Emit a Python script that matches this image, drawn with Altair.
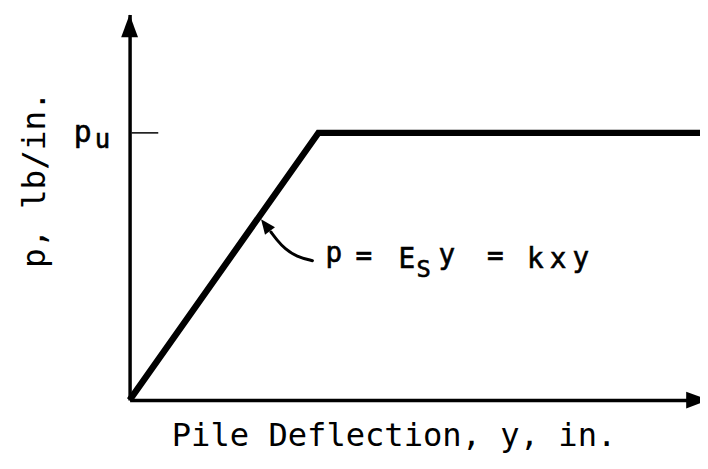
import altair as alt
import pandas as pd

FONT = "DejaVu Sans Mono"

# p-y curve: linear rise to the ultimate resistance pu, then a plateau
deflection = [0.0, 0.331, 1.0]
resistance = [0.0, 0.693, 0.693]
pu = 0.693

# axis arrow tips (x, y)
y_axis_tip_x, y_axis_tip_y = 0.0, 1.0
x_axis_tip_x, x_axis_tip_y = 1.0156, 0.0

# leader curve from the equation to the sloping line
curve_x = [0.3206, 0.2929, 0.2721, 0.2582, 0.2478]
curve_y = [0.3615, 0.3718, 0.3923, 0.4154, 0.4359]
curve_tip_x, curve_tip_y = 0.2305, 0.4692

# equation  p = E_S y = k x y
ann_chars = ["p", "=", "E", "S", "y", "=", "k", "x", "y"]
ann_x = [0.3579, 0.4107, 0.4861, 0.5156, 0.5563, 0.6412, 0.7114, 0.7513, 0.7912]
ann_y = [0.3577, 0.3513, 0.3436, 0.3179, 0.3538, 0.3513, 0.3436, 0.3436, 0.3462]
ann_fs = [28, 28, 28, 24, 28, 28, 28, 28, 28]

# label p_u at the ultimate resistance
lbl_chars = ["p", "u"]
lbl_x = [-0.0823, -0.0477]
lbl_y = [0.6692, 0.6538]
lbl_fs = [30, 26]

x_title = "Pile Deflection, y, in."
y_title = "p, lb/in."

xs = alt.Scale(domain=[0, 1], nice=False, zero=False)
ys = alt.Scale(domain=[0, 1], nice=False, zero=False)

x_axis = alt.Axis(
    title=x_title, titleFont=FONT, titleFontSize=32.5, titleFontWeight="normal",
    titleColor="black", titleX=267, titleY=46, titleBaseline="alphabetic",
    titleAlign="center", domain=True, domainColor="black", domainWidth=3.5,
    ticks=False, labels=False, grid=False)
y_axis = alt.Axis(
    title=y_title, titleFont=FONT, titleFontSize=33, titleFontWeight="normal",
    titleColor="black", titleX=-86, titleY=166.5, titleAngle=270,
    titleBaseline="alphabetic", titleAlign="center", domain=True,
    domainColor="black", domainWidth=3.5, ticks=False, labels=False, grid=False)

X0 = alt.X("x:Q", scale=xs, axis=x_axis)
Y0 = alt.Y("y:Q", scale=ys, axis=y_axis)

line_df = pd.DataFrame({"x": deflection, "y": resistance})
pu_df = pd.DataFrame({"y": [pu]})
axis_tips = pd.DataFrame({"x": [y_axis_tip_x], "y": [y_axis_tip_y]})
x_tip_df = pd.DataFrame({"x": [x_axis_tip_x], "y": [x_axis_tip_y]})
curve_df = pd.DataFrame({"x": curve_x, "y": curve_y, "i": list(range(len(curve_x)))})
ctip_df = pd.DataFrame({"x": [curve_tip_x], "y": [curve_tip_y]})
ann_df = pd.DataFrame({"x": ann_x, "y": ann_y, "t": ann_chars, "fs": ann_fs})
lbl_df = pd.DataFrame({"x": lbl_x, "y": lbl_y, "t": lbl_chars, "fs": lbl_fs})

main = alt.Chart(line_df).mark_line(
    color="black", strokeWidth=6.5, strokeJoin="miter", strokeCap="butt"
).encode(x=X0, y=Y0)

arrow_path = "M0,0 L0.37,1 L-0.37,1 Z"
y_arrow = alt.Chart(axis_tips).mark_point(
    shape=arrow_path, size=2116, filled=True, fill="black", opacity=1, strokeWidth=0
).encode(x=X0, y=Y0)
x_arrow = alt.Chart(x_tip_df).mark_point(
    shape=arrow_path, size=2116, filled=True, fill="black", opacity=1, strokeWidth=0, angle=90
).encode(x=X0, y=Y0)

tick = alt.Chart(pu_df).mark_rule(color="black", strokeWidth=1.5).encode(
    x=alt.value(2), x2=alt.value(29), y=Y0
)

curve = alt.Chart(curve_df).mark_line(
    color="black", strokeWidth=3, interpolate="basis", strokeCap="round"
).encode(x=X0, y=Y0, order="i:Q")

curve_arrow = alt.Chart(ctip_df).mark_point(
    shape="M0,0 L0.42,1 L-0.42,1 Z", size=900, filled=True, fill="black",
    opacity=1, strokeWidth=0, angle=323
).encode(x=X0, y=Y0)

ann = alt.Chart(ann_df).mark_text(
    font=FONT, align="center", baseline="alphabetic", color="black",
    stroke="black", strokeWidth=0.6
).encode(x=X0, y=Y0, text="t:N", size=alt.Size("fs:Q", scale=None, legend=None))

lbl = alt.Chart(lbl_df).mark_text(
    font=FONT, align="center", baseline="alphabetic", color="black",
    stroke="black", strokeWidth=0.6
).encode(x=X0, y=Y0, text="t:N", size=alt.Size("fs:Q", scale=None, legend=None))

chart = alt.layer(main, y_arrow, x_arrow, tick, curve, curve_arrow, ann, lbl).properties(
    width=577, height=390,
    autosize=alt.AutoSizeParams(type="none"),
    padding={"left": 123, "top": 4, "right": 0, "bottom": 55},
    background="white",
).configure_view(strokeWidth=0)

chart.save("out.html", embed_options={"renderer": "svg", "actions": False})
